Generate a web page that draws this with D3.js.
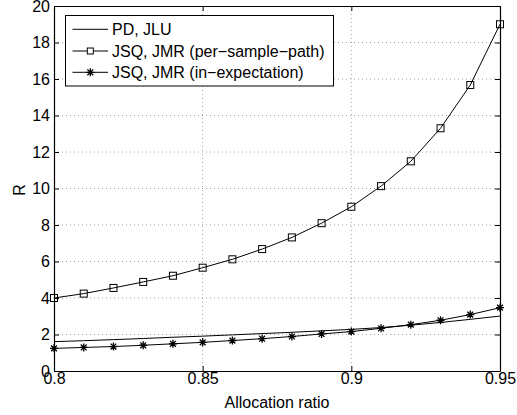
<!DOCTYPE html>
<html>
<head>
<script src="https://d3js.org/d3.v7.min.js"></script>
<style>
  body { margin: 0; background: #fff; }
  text { font-family: "Liberation Sans", Arial, sans-serif; fill: #000; }
</style>
</head>
<body>
<svg width="517" height="415"></svg>
<script>
// allocation ratio values
const ratios = [0.80, 0.81, 0.82, 0.83, 0.84, 0.85, 0.86, 0.87, 0.88, 0.89, 0.90, 0.91, 0.92, 0.93, 0.94, 0.95];
const pdJlu = [1.61, 1.66, 1.72, 1.78, 1.85, 1.91, 1.98, 2.05, 2.12, 2.20, 2.28, 2.38, 2.51, 2.66, 2.83, 3.01];
const jsqPath = [4.0, 4.24, 4.55, 4.88, 5.22, 5.66, 6.12, 6.68, 7.32, 8.1, 9.0, 10.13, 11.49, 13.3, 15.67, 19.0];
const jsqExp = [1.24, 1.29, 1.34, 1.41, 1.49, 1.57, 1.67, 1.77, 1.89, 2.03, 2.16, 2.34, 2.54, 2.78, 3.09, 3.47];
const xTicks = [0.8, 0.85, 0.9, 0.95];
const yTicks = [0, 2, 4, 6, 8, 10, 12, 14, 16, 18, 20];
const legendLabels = ["PD, JLU", "JSQ, JMR (per\u2212sample\u2212path)", "JSQ, JMR (in\u2212expectation)"];

const svg = d3.select("svg");
const mLeft = 54, mRight = 500, mTop = 6, mBottom = 371;
const fs = 16;

const x = d3.scaleLinear().domain([0.8, 0.95]).range([mLeft, mRight]);
const y = d3.scaleLinear().domain([0, 20]).range([mBottom, mTop]);

// grid
const grid = svg.append("g").attr("stroke", "#888").attr("stroke-width", 0.8)
  .attr("stroke-dasharray", "1,3");
grid.selectAll(".gx").data(xTicks.slice(1, -1)).join("line")
  .attr("x1", d => x(d)).attr("x2", d => x(d)).attr("y1", mTop).attr("y2", mBottom);
grid.selectAll(".gy").data(yTicks.slice(1, -1)).join("line")
  .attr("y1", d => y(d)).attr("y2", d => y(d)).attr("x1", mLeft).attr("x2", mRight);

// axes (Matlab style, ticks inside)
const xAxis = d3.axisBottom(x).tickValues(xTicks).tickSizeInner(-5).tickSizeOuter(0)
  .tickPadding(2).tickFormat(d3.format("~g"));
const gx = svg.append("g").attr("transform", `translate(0,${mBottom})`).call(xAxis);
const gxTop = svg.append("g").attr("transform", `translate(0,${mTop})`)
  .call(d3.axisTop(x).tickValues(xTicks).tickSizeInner(-5).tickSizeOuter(0).tickFormat(""));
const yAxis = d3.axisLeft(y).tickValues(yTicks).tickSizeInner(-5).tickSizeOuter(0).tickPadding(4);
const gy = svg.append("g").attr("transform", `translate(${mLeft},0)`).call(yAxis);
const gyR = svg.append("g").attr("transform", `translate(${mRight},0)`)
  .call(d3.axisRight(y).tickValues(yTicks).tickSizeInner(-5).tickSizeOuter(0).tickFormat(""));
[gx, gxTop, gy, gyR].forEach(g => {
  g.select(".domain").attr("stroke", "#000").attr("stroke-width", 1.2);
  g.selectAll(".tick line").attr("stroke", "#000");
  g.selectAll("text").attr("font-size", fs).attr("font-family", "Liberation Sans, Arial, sans-serif");
});

// lines
const line = d3.line().x((d, i) => x(ratios[i])).y(d => y(d));
const lines = svg.append("g").attr("fill", "none").attr("stroke", "#000").attr("stroke-width", 1);
lines.append("path").attr("d", line(pdJlu));
lines.append("path").attr("d", line(jsqPath));
lines.append("path").attr("d", line(jsqExp));

// square markers
svg.append("g").selectAll("rect").data(jsqPath).join("rect")
  .attr("x", (d, i) => x(ratios[i]) - 3.5).attr("y", d => y(d) - 3.5)
  .attr("width", 7).attr("height", 7)
  .attr("fill", "none").attr("stroke", "#000").attr("stroke-width", 1);

// asterisk markers
const star = "M-4,0H4M0,-4V4M-2.9,-2.9L2.9,2.9M-2.9,2.9L2.9,-2.9";
svg.append("g").selectAll("path").data(jsqExp).join("path")
  .attr("transform", (d, i) => `translate(${x(ratios[i])},${y(d)})`)
  .attr("d", star).attr("stroke", "#000").attr("stroke-width", 1.3);

// axis labels
svg.append("text").attr("x", (mLeft + mRight) / 2).attr("y", 408)
  .attr("text-anchor", "middle").attr("font-size", fs).text("Allocation ratio");
svg.append("text").attr("transform", `translate(25,190) rotate(-90)`)
  .attr("text-anchor", "middle").attr("font-size", fs).text("R");

// legend
const lg = svg.append("g");
lg.append("rect").attr("x", 65.5).attr("y", 15.5).attr("width", 268).attr("height", 70.5)
  .attr("fill", "#fff").attr("stroke", "#000").attr("stroke-width", 1);
const rows = [29.3, 51, 72.3];
legendLabels.forEach((lab, i) => {
  lg.append("line").attr("x1", 72.5).attr("x2", 108).attr("y1", rows[i]).attr("y2", rows[i])
    .attr("stroke", "#000");
  if (i === 1) lg.append("rect").attr("x", 87.3).attr("y", rows[i] - 3)
    .attr("width", 6).attr("height", 6).attr("fill", "#fff").attr("stroke", "#000");
  if (i === 2) lg.append("path").attr("transform", `translate(90.3,${rows[i]})`)
    .attr("d", star).attr("stroke", "#000").attr("stroke-width", 1.3);
  lg.append("text").attr("x", 112).attr("y", rows[i] + 5.7).attr("font-size", fs).text(lab);
});
</script>
</body>
</html>
